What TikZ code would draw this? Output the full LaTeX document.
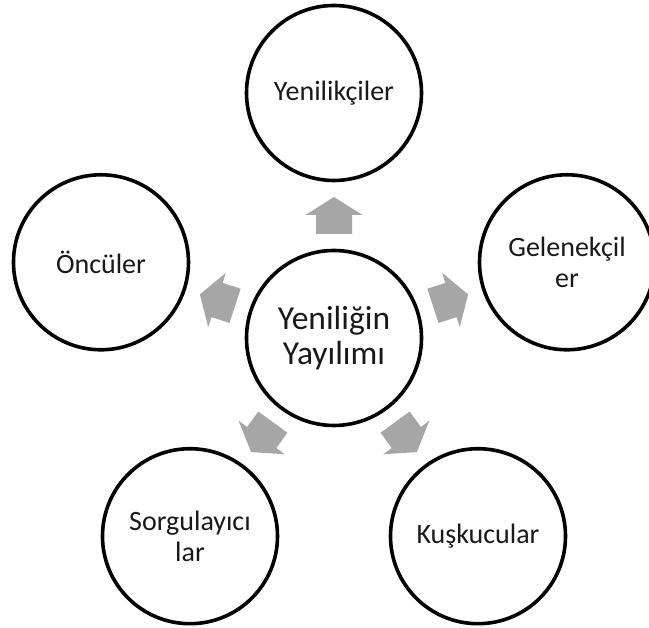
\documentclass[tikz,border=0pt]{standalone}
\usepackage{fontspec}
\setmainfont{Carlito}
\tikzset{
  x=1pt, y=1pt,
  ring/.style={circle, draw=black, line width=3.6pt, fill=white, minimum size=175pt, inner sep=0pt, align=center, text=black!90},
  outertext/.style={font=\fontsize{28}{31}\selectfont},
  centertext/.style={font=\fontsize{33.5}{36}\selectfont},
  blockarrow/.style={fill=arrowgray, draw=none}
}
\definecolor{arrowgray}{HTML}{A6A6A6}
\begin{document}
\begin{tikzpicture}
\useasboundingbox (0,0) rectangle (649,628);
\fill[white] (0,0) rectangle (649,628);
\coordinate (c) at (334,290);
% block arrows
\foreach \ang in {90,162,18,234,306}{
  \begin{scope}[shift={(c)}, rotate=\ang]
    \fill[blockarrow] (104,-18) -- (123,-18) -- (123,-28.5) -- (141,0) -- (123,28.5) -- (123,18) -- (104,18) -- cycle;
  \end{scope}
}
\node[ring, centertext] (center) at (c) {Yeniliğin\\[-1pt]Yayılımı};
\path (c) ++(90:245)  node[ring, outertext] (n1) {Yenilikçiler};
\path (c) ++(18:245)  node[ring, outertext] (n2) {Gelenekçil\\er};
\path (c) ++(306:245) node[ring, outertext] (n3) {Kuşkucular};
\path (c) ++(234:245) node[ring, outertext] (n4) {Sorgulayıcı\\lar};
\path (c) ++(162:245) node[ring, outertext] (n5) {Öncüler};
\end{tikzpicture}
\end{document}
